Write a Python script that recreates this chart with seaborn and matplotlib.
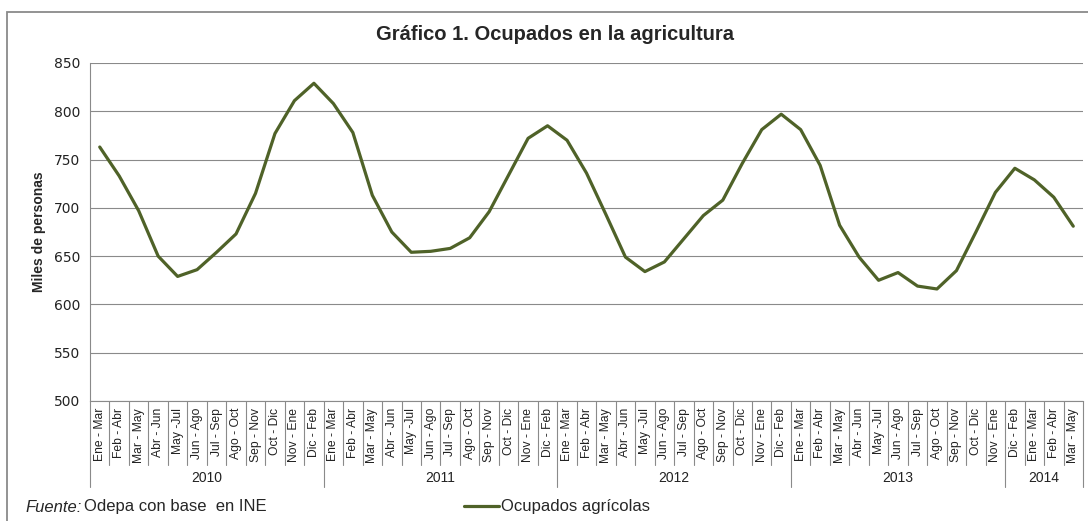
import pandas as pd
import matplotlib.pyplot as plt
import matplotlib.transforms as mtransforms
from matplotlib.patches import Rectangle
import seaborn as sns


# Datos: trimestres móviles y ocupados (miles de personas)
meses = ["Ene - Mar", "Feb - Abr", "Mar - May", "Abr - Jun", "May -Jul", "Jun - Ago",
         "Jul - Sep", "Ago - Oct", "Sep - Nov", "Oct - Dic", "Nov - Ene", "Dic - Feb"]

periodos = meses * 3 + meses[:11] + ["Dic - Feb", "Ene - Mar", "Feb - Abr", "Mar - May"]
anios = ["2010"] * 12 + ["2011"] * 12 + ["2012"] * 12 + ["2013"] * 11 + ["2014"] * 4

ocupados = [763, 733, 697, 650, 629, 636, 654, 673, 715, 777, 811, 829,
            808, 778, 713, 675, 654, 655, 658, 669, 696, 734, 772, 785,
            770, 736, 693, 649, 634, 644, 668, 692, 708, 746, 781, 797,
            781, 744, 682, 649, 625, 633, 619, 616, 635, 675, 716,
            741, 729, 711, 681]

df = pd.DataFrame({"periodo": periodos, "anio": anios, "valor": ocupados})
df["pos"] = range(len(df))

sns.set_style("white")
plt.rcParams["font.family"] = ["Liberation Sans", "DejaVu Sans"]

W, H = 1088, 521
fig = plt.figure(figsize=(W / 100, H / 100), dpi=100)
ax = fig.add_axes([90 / W, 1 - 401 / H, (1083 - 90) / W, (401 - 63) / H])

grey = "#8a8a8a"

sns.lineplot(data=df, x="pos", y="valor", color="#4F6228", linewidth=2.3,
             ax=ax, label="Ocupados agrícolas")

ax.set_xlim(-0.5, len(df) - 0.5)
ax.set_ylim(500, 850)
ax.set_yticks(range(500, 851, 50))
ax.yaxis.grid(True, color=grey, linewidth=0.8)
ax.set_axisbelow(True)
ax.set_xlabel("")
ax.set_ylabel("")

ax.set_xticks(df["pos"])
ax.set_xticklabels(df["periodo"], rotation=90, fontsize=8.7, color="#222222")
ax.tick_params(axis="x", length=0, pad=5)
ax.tick_params(axis="y", length=4, color=grey, direction="out", width=0.8,
               labelsize=10, labelcolor="#222222", pad=3)
for lbl in ax.get_yticklabels():
    lbl.set_fontfamily("DejaVu Sans")

for side in ["top", "right"]:
    ax.spines[side].set_visible(False)
for side in ["left", "bottom"]:
    ax.spines[side].set_color(grey)
    ax.spines[side].set_linewidth(0.8)

# separadores de categorías y de años
trans = mtransforms.blended_transform_factory(ax.transData, ax.transAxes)
alto = 401 - 63
limites_anio = [0] + [i for i in range(1, len(df)) if anios[i] != anios[i - 1]] + [len(df)]
for b in range(len(df) + 1):
    fondo = -86 / alto if b in limites_anio else -64 / alto
    ax.plot([b - 0.5, b - 0.5], [0, fondo], transform=trans, color=grey,
            linewidth=0.8, clip_on=False)

for anio, grupo in df.groupby("anio"):
    ax.text(grupo["pos"].mean(), -(478 - 401) / alto, anio, transform=trans,
            ha="center", va="center", fontsize=10, color="#222222")

fig.text(38.5 / W, 1 - 232 / H, "Miles de personas", rotation=90, ha="center",
         va="center", fontsize=10, fontweight="bold")

fig.text(555 / W, 1 - 34 / H, "Gráfico 1. Ocupados en la agricultura",
         ha="center", va="center", fontsize=14.5, fontweight="bold")

handles, labels = ax.get_legend_handles_labels()
ax.legend_.remove()
fig.legend(handles, labels, loc="center", bbox_to_anchor=(557 / W, 1 - 507 / H),
           frameon=False, fontsize=12, handlelength=2.1, handletextpad=0.1)

fig.text(25 / W, 1 - 507 / H, "Fuente:", style="italic", fontsize=12, va="center")
fig.text(83.5 / W, 1 - 507 / H, "Odepa con base  en INE", fontsize=12, va="center")

fig.patches.append(Rectangle((7 / W, -0.1), 1.2, 1 - 12 / H + 0.1,
                             transform=fig.transFigure, fill=False,
                             edgecolor=grey, linewidth=1.3))

fig.savefig("out.png", dpi=100)
